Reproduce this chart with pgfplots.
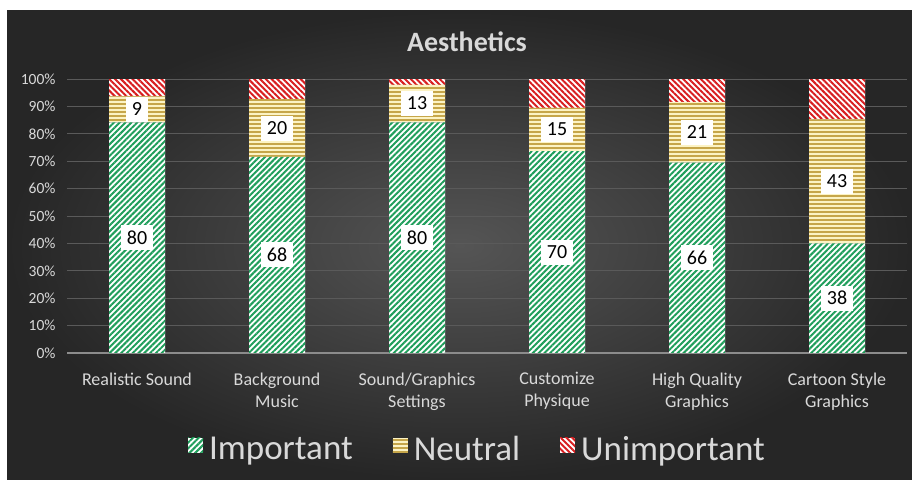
\documentclass[border=0pt]{standalone}
\usepackage{pgfplots}
\pgfplotsset{compat=1.18}
\usepackage{fontspec}
\setmainfont{Carlito}
\usetikzlibrary{patterns.meta}
\definecolor{bgin}{HTML}{555555}
\definecolor{bgout}{HTML}{262626}
\definecolor{impG}{HTML}{1F9E5B}
\definecolor{neuY}{HTML}{C6A64A}
\definecolor{neuBg}{HTML}{FCF3C4}
\definecolor{unR}{HTML}{D81E20}
\definecolor{txt}{HTML}{D9D9D9}
\definecolor{gridc}{HTML}{5A5A5A}
\definecolor{axc}{HTML}{8C8C8C}
\pgfplotsset{
  mylegend/.style={legend image code/.code={\draw[##1, draw=none] (0bp,-4bp) rectangle (15bp,11bp); \path (19bp,0bp);}},
  midlabels/.style={
    visualization depends on=rawy\as\rawy,
    nodes near coords,
    every node near coord/.append style={shift={(axis direction cs:0,0)}, anchor=center,
      fill=white, text=black, font=\fontsize{20bp}{24bp}\selectfont, inner xsep=6bp, inner ysep=4bp, minimum height=25bp}
  }
}
\begin{document}
\begin{tikzpicture}
\useasboundingbox (0bp,0bp) rectangle (912bp,480bp);
\fill[white] (0bp,0bp) rectangle (912bp,480bp);
\shade[inner color=bgin, outer color=bgout] (7bp,0bp) rectangle (912bp,469bp);
\node[font=\bfseries\fontsize{28bp}{32bp}\selectfont, text=txt] at (467bp,438bp) {Aesthetics};
\begin{axis}[
  at={(67bp,127bp)}, anchor=south west, scale only axis, width=840bp, height=274bp,
  ybar stacked, bar width=56bp,
  xmin=-0.5, xmax=5.5, ymin=0, ymax=95,
  xtick={0,...,5},
  xticklabels={Realistic Sound,{Background\\Music},{Sound/Graphics\\Settings},{Customize\\Physique},{High Quality\\Graphics},{Cartoon Style\\Graphics}},
  xticklabel style={align=center, text=txt, font=\fontsize{18bp}{22bp}\selectfont, yshift=-16bp},
  ytick={9.5,19,28.5,38,47.5,57,66.5,76,85.5,95},
  yticklabels={10\%,20\%,30\%,40\%,50\%,60\%,70\%,80\%,90\%,100\%},
  extra y ticks={0}, extra y tick labels={0\%},
  extra y tick style={grid style={draw=axc, line width=1.2bp}},
  yticklabel style={text=txt, font=\fontsize{15.5bp}{18bp}\selectfont, xshift=-8bp},
  /pgf/number format/assume math mode=true,
  ymajorgrids, grid style={draw=gridc, line width=0.8bp},
  axis line style={draw=none}, tick style={draw=none},
  legend style={at={(0.4887,-0.35)}, anchor=center, draw=none, fill=none, text=txt,
    font=\fontsize{35bp}{40bp}\selectfont, legend columns=3,
    /tikz/every even column/.append style={column sep=38bp}},
  legend cell align=left,
]
\addplot[draw=none, fill=white, postaction={pattern={Lines[angle=45,distance=4.1bp,line width=2bp]}, pattern color=impG}, mylegend, midlabels]
  coordinates {(0,80) (1,68) (2,80) (3,70) (4,66) (5,38)};
\addplot[draw=none, fill=neuBg, postaction={pattern={Lines[angle=0,distance=4bp,line width=2bp]}, pattern color=neuY}, mylegend, midlabels]
  coordinates {(0,9) (1,20) (2,13) (3,15) (4,21) (5,43)};
\addplot[draw=none, fill=white, postaction={pattern={Lines[angle=-45,distance=4.1bp,line width=2bp]}, pattern color=unR}, mylegend]
  coordinates {(0,6) (1,7) (2,2) (3,10) (4,8) (5,14)};
\legend{Important,Neutral,Unimportant}
\end{axis}
\end{tikzpicture}
\end{document}
